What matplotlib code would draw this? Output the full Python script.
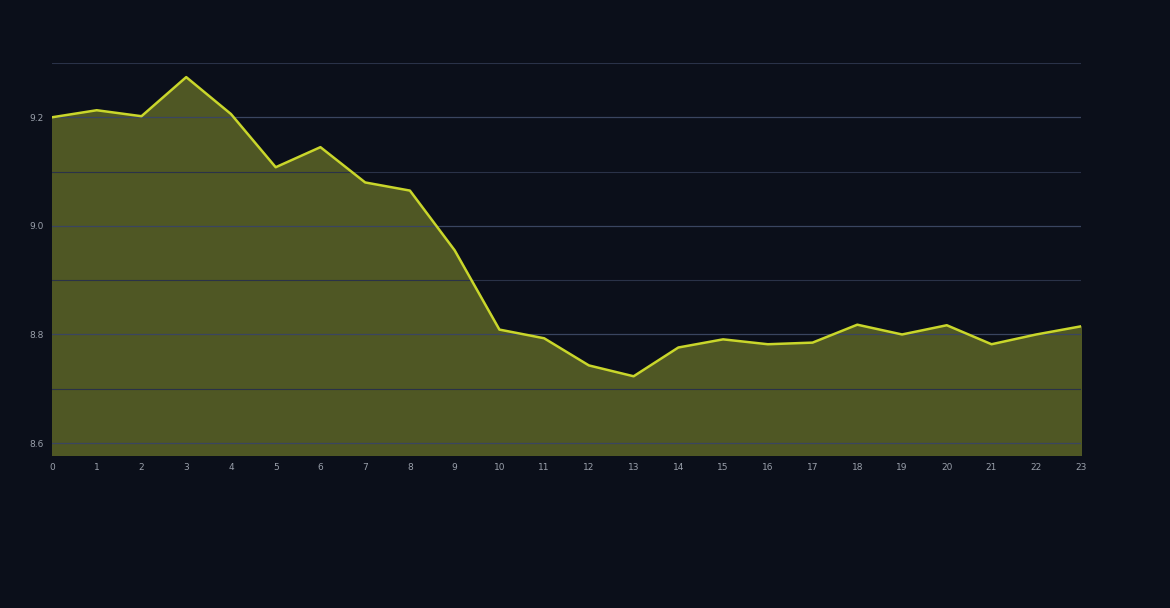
import matplotlib
matplotlib.use("Agg")
import matplotlib.pyplot as plt

hours = list(range(24))
values = [9.200, 9.213, 9.202, 9.274, 9.206, 9.108, 9.145, 9.080, 9.065, 8.955,
          8.809, 8.793, 8.743, 8.723, 8.776, 8.791, 8.782, 8.785, 8.818, 8.800,
          8.817, 8.782, 8.800, 8.815]
ymin, ymax = 8.578, 9.30
major_ticks = [8.6, 8.8, 9.0, 9.2]
minor_ticks = [8.7, 8.9, 9.1, 9.3]

bg = "#0b0f1a"
fig = plt.figure(figsize=(11.7, 6.08), dpi=100, facecolor=bg)
ax = fig.add_axes([52/1170, 1-455/608, (1081-52)/1170, (455-63)/608], facecolor=bg)
ax.fill_between(hours, values, ymin, color="#4f5724", zorder=1)
ax.plot(hours, values, color="#c9d62b", lw=1.8, zorder=3)
ax.set_xlim(0, 23)
ax.set_ylim(ymin, ymax)
ax.set_xticks(hours)
ax.set_yticks(major_ticks)
ax.set_yticklabels([f"{v:.1f}" for v in major_ticks])
ax.set_yticks(minor_ticks, minor=True)
ax.grid(axis="y", which="major", color="#3a4560", lw=0.9, zorder=2)
ax.grid(axis="y", which="minor", color="#2a3248", lw=0.8, zorder=2)
ax.tick_params(colors="#9aa0ab", labelsize=6.5, length=0, pad=6)
ax.tick_params(axis="y", which="minor", length=0)
for s in ax.spines.values():
    s.set_visible(False)
fig.savefig("out.png", dpi=100, facecolor=bg)
